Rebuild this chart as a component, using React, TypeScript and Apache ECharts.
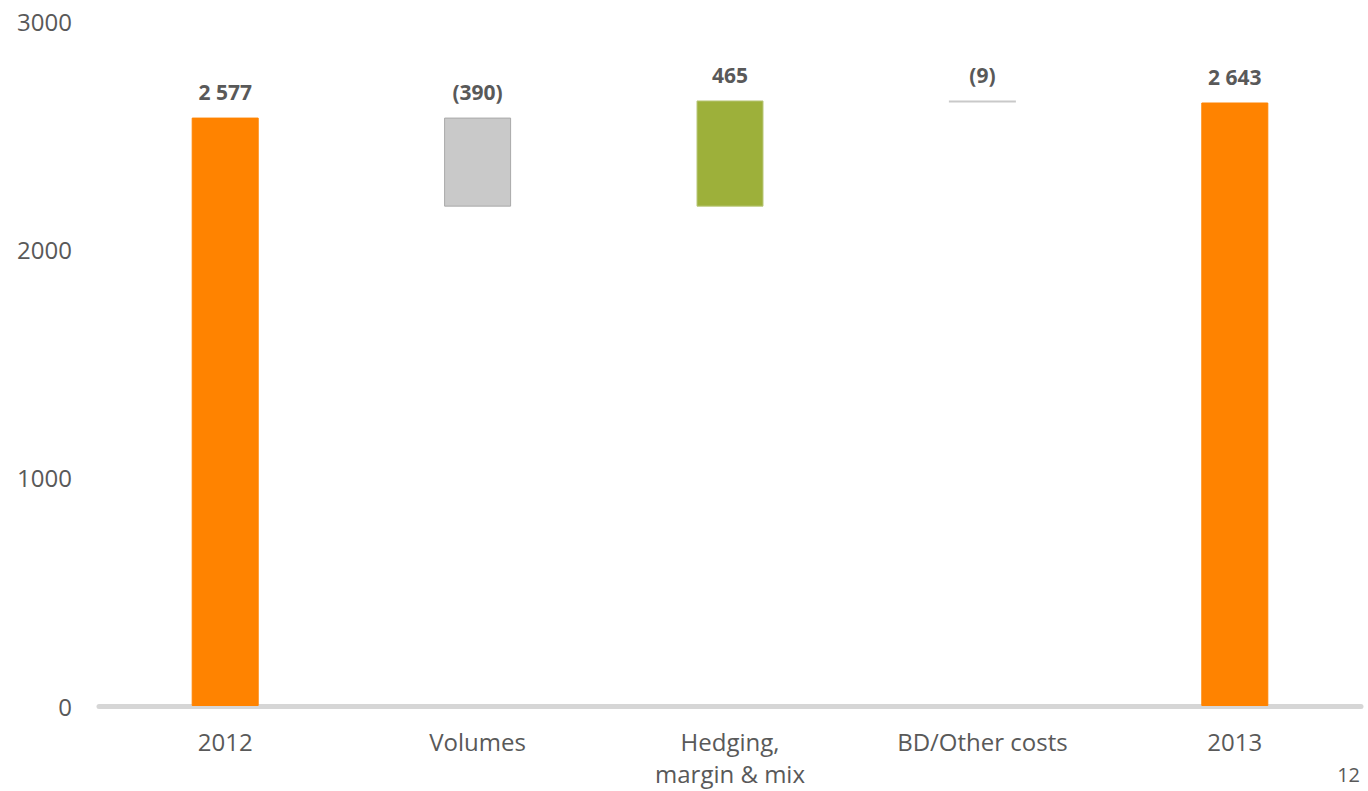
import React, { useEffect, useRef } from "react";
import * as echarts from "echarts";

const categories = ["2012", "Volumes", "Hedging,\nmargin & mix", "BD/Other costs", "2013"];
const startValue = 2577;
const changes = [-390, 465, -9];
const endValue = 2643;
const yTicks = [0, 1000, 2000, 3000];

const ORANGE = "#ff8300";
const GREY = "#c9c9c9";
const GREEN = "#9db03a";
const TEXT = "#595959";
const FONT = "'Open Sans', 'Noto Sans', sans-serif";

function fmt(v: number): string {
  const a = Math.abs(v);
  const s = a >= 1000 ? `${Math.floor(a / 1000)} ${String(a % 1000).padStart(3, "0")}` : String(a);
  return v < 0 ? `(${s})` : s;
}

export default function App() {
  const ref = useRef<HTMLDivElement>(null);
  useEffect(() => {
    if (!ref.current) return;
    const chart = echarts.init(ref.current, undefined, { renderer: "svg" });

    const base: number[] = [0];
    const heights: number[] = [startValue];
    const colors: string[] = [ORANGE];
    const borders: string[] = [ORANGE];
    const labels: string[] = [fmt(startValue)];
    let running = startValue;
    changes.forEach((c) => {
      const next = running + c;
      base.push(Math.min(running, next));
      heights.push(Math.abs(c));
      colors.push(c < 0 ? GREY : GREEN);
      borders.push(c < 0 ? "#a9a9a9" : "#b9c77a");
      labels.push(fmt(c));
      running = next;
    });
    base.push(0);
    heights.push(endValue);
    colors.push(ORANGE);
    borders.push(ORANGE);
    labels.push(fmt(endValue));

    chart.setOption({
      animation: false,
      grid: { left: 99, right: 7, top: 21, bottom: 85, containLabel: false },
      xAxis: {
        type: "category",
        data: categories,
        offset: 3,
        axisLine: { show: true, lineStyle: { color: "#d6d6d6", width: 5 } },
        axisTick: { show: false },
        axisLabel: {
          color: TEXT,
          fontFamily: FONT,
          fontSize: 24,
          lineHeight: 32,
          margin: 16,
          interval: 0,
        },
      },
      yAxis: {
        type: "value",
        min: yTicks[0],
        max: yTicks[yTicks.length - 1],
        interval: 1000,
        axisLine: { show: false },
        axisTick: { show: false },
        splitLine: { show: false },
        axisLabel: {
          color: TEXT,
          fontFamily: FONT,
          fontSize: 24,
          margin: 27,
          formatter: (v: number) => String(v),
        },
      },
      series: [
        {
          type: "bar",
          stack: "wf",
          barWidth: 67,
          silent: true,
          itemStyle: { color: "transparent" },
          data: base,
        },
        {
          type: "bar",
          stack: "wf",
          barWidth: 67,
          data: heights.map((h, i) => ({
            value: h,
            itemStyle: { color: colors[i], borderColor: borders[i], borderWidth: i === 3 ? 0 : 1 },
          })),
          label: {
            show: true,
            position: "top",
            distance: 15,
            color: TEXT,
            fontFamily: FONT,
            fontWeight: "bold",
            fontSize: 21,
            formatter: (p: any) => labels[p.dataIndex],
          },
        },
      ],
      graphic: [
        {
          type: "text",
          right: 8,
          top: 764,
          style: { text: "12", fill: TEXT, font: `20px ${FONT}` },
        },
      ],
    });
    return () => chart.dispose();
  }, []);
  return (
    <div
      ref={ref}
      style={{ position: "absolute", left: 0, top: 0, width: 1368, height: 791, background: "#fff" }}
    />
  );
}
